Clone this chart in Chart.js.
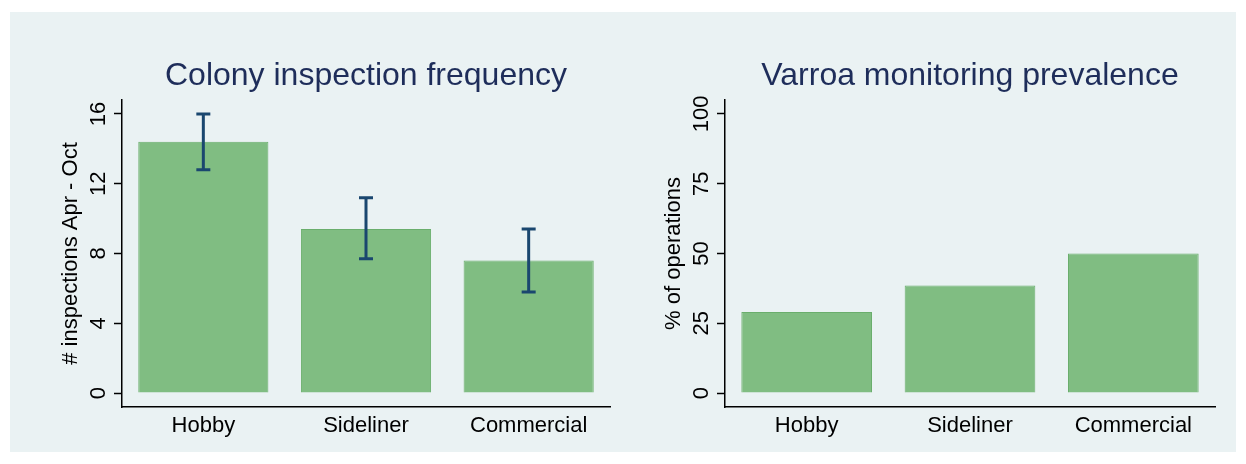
<!DOCTYPE html>
<html>
<head>
<meta charset="utf-8">
<script src="https://cdn.jsdelivr.net/npm/chart.js@4"></script>
<style>
  body { margin: 0; background: #fff; width: 1246px; height: 464px; position: relative; }
  #panel { position: absolute; left: 10px; top: 12px; width: 1226px; height: 440px; background: #eaf2f3; }
  .box { position: absolute; top: 0; height: 440px; }
</style>
</head>
<body>
<div id="panel">
  <div class="box" style="left:0;width:610px"><canvas id="left-chart"></canvas></div>
  <div class="box" style="left:610px;width:616px"><canvas id="right-chart"></canvas></div>
</div>
<script>
// Data
const categories = ["Hobby", "Sideliner", "Commercial"];
const inspections = [14.4, 9.4, 7.6];
const inspectionsLow = [12.8, 7.7, 5.8];
const inspectionsHigh = [16.0, 11.2, 9.4];
const monitoring = [29, 38.5, 50];
const leftTicks = [0, 4, 8, 12, 16];
const rightTicks = [0, 25, 50, 75, 100];

const FONT = "'Liberation Sans', Arial, sans-serif";

// Draws error bars, title, y title and rotated y tick labels
const extras = {
  id: "extras",
  afterDatasetsDraw(chart, args, opts) {
    const ctx = chart.ctx;
    const x = chart.scales.x, y = chart.scales.y;
    const area = chart.chartArea;
    ctx.save();
    if (opts.low) {
      ctx.strokeStyle = "#1a476f";
      ctx.lineWidth = 3;
      opts.low.forEach(function (lo, i) {
        const cx = x.getPixelForValue(i);
        const y1 = y.getPixelForValue(lo), y2 = y.getPixelForValue(opts.high[i]);
        ctx.beginPath();
        ctx.moveTo(cx, y1); ctx.lineTo(cx, y2);
        ctx.moveTo(cx - 7, y1); ctx.lineTo(cx + 7, y1);
        ctx.moveTo(cx - 7, y2); ctx.lineTo(cx + 7, y2);
        ctx.stroke();
      });
    }
    // title
    ctx.fillStyle = "#1e2d5a";
    ctx.font = "32px " + FONT;
    ctx.textAlign = "center";
    ctx.textBaseline = "middle";
    ctx.fillText(opts.title, (area.left + area.right) / 2, 64);
    // y ticks
    ctx.fillStyle = "#000";
    ctx.font = "22px " + FONT;
    ctx.textBaseline = "bottom";
    opts.ticks.forEach(function (t) {
      ctx.save();
      ctx.translate(area.left - 12, y.getPixelForValue(t));
      ctx.rotate(-Math.PI / 2);
      ctx.fillText(String(t), 0, 0);
      ctx.restore();
    });
    // y title
    ctx.save();
    ctx.translate(area.left - 51, y.getPixelForValue((opts.ticks[0] + opts.ticks[opts.ticks.length - 1]) / 2));
    ctx.rotate(-Math.PI / 2);
    ctx.textBaseline = "middle";
    ctx.fillText(opts.yTitle, 0, 0);
    ctx.restore();
    ctx.restore();
  }
};

function makeChart(id, title, yTitle, values, ticks, min, max, yWidth, padRight, err) {
  return new Chart(document.getElementById(id), {
    type: "bar",
    data: {
      labels: categories,
      datasets: [{
        data: values,
        backgroundColor: "#80bd82",
        borderColor: "#6aae6c",
        borderWidth: 1,
        barPercentage: 0.8,
        categoryPercentage: 1.0,
      }],
    },
    plugins: [extras],
    options: {
      responsive: false,
      animation: false,
      layout: { padding: { left: 0, right: padRight, top: 88, bottom: 0 } },
      plugins: {
        legend: { display: false },
        tooltip: { enabled: false },
        title: { display: false },
        extras: { title: title, yTitle: yTitle, ticks: ticks, low: err ? err[0] : null, high: err ? err[1] : null },
      },
      scales: {
        x: {
          offset: true,
          grid: { display: false, drawTicks: false },
          border: { display: true, color: "#000", width: 1.5 },
          ticks: { color: "#000", font: { family: FONT, size: 22 }, padding: 6 },
          afterFit(s) { s.height = 45; },
        },
        y: {
          min: min, max: max,
          afterBuildTicks(s) { s.ticks = ticks.map(function (v) { return { value: v }; }); },
          grid: { drawOnChartArea: false, tickLength: 8, color: "#000", tickWidth: 1.5 },
          border: { display: true, color: "#000", width: 1.5 },
          ticks: { display: false },
          afterFit(s) { s.width = yWidth; },
        },
      },
    },
  });
}

const lc = document.getElementById("left-chart");
lc.width = 610; lc.height = 440;
const rc = document.getElementById("right-chart");
rc.width = 616; rc.height = 440;

makeChart("left-chart", "Colony inspection frequency", "# inspections Apr - Oct",
  inspections, leftTicks, -0.8, 16.8, 112, 10, [inspectionsLow, inspectionsHigh]);
makeChart("right-chart", "Varroa monitoring prevalence", "% of operations",
  monitoring, rightTicks, -5, 105, 105, 21, null);
</script>
</body>
</html>
